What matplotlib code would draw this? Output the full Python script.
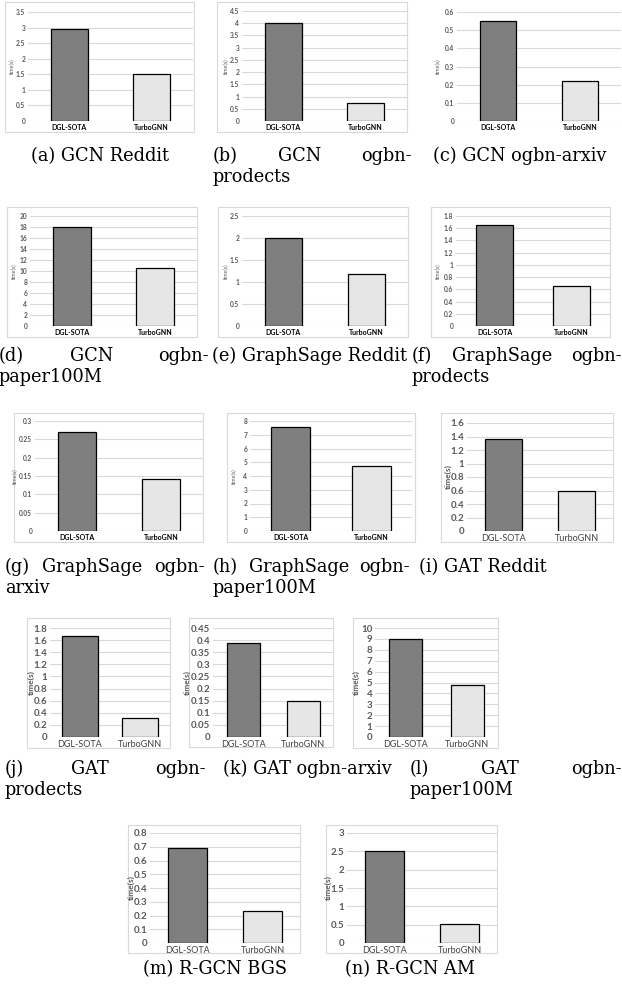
# Runtime comparison, DGL-SOTA vs TurboGNN, 14 small bar charts with captions
import numpy as np
import matplotlib.pyplot as plt
from matplotlib.patches import Rectangle

systems = ['DGL-SOTA', 'TurboGNN']

dgl_time = [2.95, 4.0, 0.55, 18.0, 2.0, 1.66, 0.27, 7.6, 1.36, 1.66, 0.39, 9.0, 0.69, 2.52]
turbo_time = [1.52, 0.72, 0.22, 10.6, 1.18, 0.66, 0.142, 4.75, 0.59, 0.31, 0.15, 4.75, 0.23, 0.52]
y_max = [3.5, 4.5, 0.6, 20, 2.5, 1.8, 0.3, 8, 1.6, 1.8, 0.45, 10, 0.8, 3]
y_step = [0.5, 0.5, 0.1, 2, 0.5, 0.2, 0.05, 1, 0.2, 0.2, 0.05, 1, 0.1, 0.5]

captions = [
    ['(a) GCN Reddit'],
    [['(b)', 'GCN', 'ogbn-'], 'prodects'],
    ['(c) GCN ogbn-arxiv'],
    [['(d)', 'GCN', 'ogbn-'], 'paper100M'],
    ['(e) GraphSage Reddit'],
    [['(f)', 'GraphSage', 'ogbn-'], 'prodects'],
    [['(g)', 'GraphSage', 'ogbn-'], 'arxiv'],
    [['(h)', 'GraphSage', 'ogbn-'], 'paper100M'],
    ['(i) GAT Reddit'],
    [['(j)', 'GAT', 'ogbn-'], 'prodects'],
    ['(k) GAT ogbn-arxiv'],
    [['(l)', 'GAT', 'ogbn-'], 'paper100M'],
    ['(m) R-GCN BGS'],
    ['(n) R-GCN AM'],
]

# layout in pixels: axes (left, top, right, bottom), frame, bar width
axes_px = [(28, 12, 193, 121), (242, 11, 407, 121), (457, 12, 621, 121),
           (30, 216, 197, 326), (242, 216, 408, 326), (456, 216, 610, 326),
           (35, 421, 203, 531), (250, 421, 412, 531), (467, 423, 613, 531),
           (50, 628, 170, 737), (213, 628, 333, 737), (375, 628, 498, 737),
           (150, 833, 300, 943), (347, 833, 497, 943)]
frame_px = [(5, 2, 194, 132), (217, 2, 407, 132), None,
            (7, 207, 197, 337), (218, 207, 408, 337), (431, 207, 610, 337),
            (14, 413, 203, 542), (227, 413, 415, 542), (441, 413, 613, 542),
            (27, 618, 170, 748), (189, 618, 333, 747), (353, 618, 498, 748),
            (128, 825, 300, 953), (326, 825, 497, 953)]
bar_w = [0.45, 0.45, 0.45, 0.45, 0.45, 0.48, 0.45, 0.47, 0.52,
         0.6, 0.55, 0.54, 0.52, 0.52]
ylab_off = [16, 16, 19, 16, 16, 18, 20, 16, 19, 19, 26, 19, 19, 19]
# caption placement: (x0, x1, y line1, y line2)
cap_px = [(35, 165, 156, None), (213, 412, 156, 177), (418, 622, 156, None),
          (-1, 209, 356, 377), (212, 408, 356, None), (412, 622, 356, 377),
          (5, 205, 567, 588), (213, 410, 567, 588), (425, 540, 567, None),
          (5, 206, 769, 790), (210, 405, 769, None), (410, 622, 769, 790),
          (135, 295, 969, None), (330, 490, 969, None)]

W, H = 622, 992
fig = plt.figure(figsize=(W / 100, H / 100), dpi=100)


def fx(x):
    return x / W


def fy(y):
    return 1 - y / H


for i in range(14):
    big = i >= 8
    fr = frame_px[i]
    if fr is not None:
        fig.patches.append(Rectangle((fx(fr[0]), fy(fr[3])), (fr[2] - fr[0]) / W,
                                     (fr[3] - fr[1]) / H, transform=fig.transFigure,
                                     fill=False, edgecolor='#d9d9d9', lw=0.8))
    l, t, r, b = axes_px[i]
    ax = fig.add_axes([fx(l), fy(b), (r - l) / W, (b - t) / H])
    ax.bar([0, 1], [dgl_time[i], turbo_time[i]], width=bar_w[i],
           color=['#7f7f7f', '#e7e6e6'], edgecolor='black', lw=0.9, zorder=3)
    ax.set_xlim(-0.5, 1.5)
    ax.set_ylim(0, y_max[i])
    ticks = np.round(np.arange(0, y_max[i] + y_step[i] / 2, y_step[i]), 3)
    ax.set_yticks(ticks)
    ax.set_yticklabels(['%g' % v for v in ticks])
    ax.set_xticks([0, 1])
    ax.set_xticklabels(systems)
    ax.grid(axis='y', color='#d9d9d9', lw=0.8, zorder=0)
    for s in ax.spines.values():
        s.set_visible(False)
    ax.tick_params(length=0, pad=2)
    ylx = fx(l - ylab_off[i])
    if big:
        for lab in ax.get_yticklabels():
            lab.set(fontsize=7, color='#595959', fontweight='bold', family='Lato')
        for lab in ax.get_xticklabels():
            lab.set(fontsize=6.5, color='#404040', family='Lato')
        fig.text(ylx, fy((t + b) / 2), 'time(s)', rotation=90, fontsize=6,
                 fontweight='bold', color='#595959', family='Lato',
                 ha='center', va='center')
    else:
        for lab in ax.get_yticklabels():
            lab.set(fontsize=4.8, color='#595959', fontweight='bold', family='Lato')
        for lab in ax.get_xticklabels():
            lab.set(fontsize=5, color='black', fontweight='bold', family='Lato')
        fig.text(ylx, fy((t + b) / 2), 'time(s)', rotation=90, fontsize=4,
                 color='#595959', family='Lato', ha='center', va='center')

# captions, two-line ones justified across the first line
renderer = fig.canvas.get_renderer()
cap_font = dict(fontsize=12.8, family='DejaVu Serif', va='center')
for i, cap in enumerate(captions):
    x0, x1, y1, y2 = cap_px[i]
    if len(cap) == 1:
        fig.text(fx((x0 + x1) / 2), fy(y1), cap[0], ha='center', **cap_font)
        continue
    words, line2 = cap
    texts = [fig.text(fx(x0), fy(y1), w, ha='left', **cap_font) for w in words]
    widths = [tx.get_window_extent(renderer).width for tx in texts]
    gap = (x1 - x0 - sum(widths)) / (len(words) - 1)
    x = x0
    for tx, w in zip(texts, widths):
        tx.set_x(fx(x))
        x += w + gap
    fig.text(fx(x0), fy(y2), line2, ha='left', **cap_font)

plt.savefig('out.png', dpi=100)
